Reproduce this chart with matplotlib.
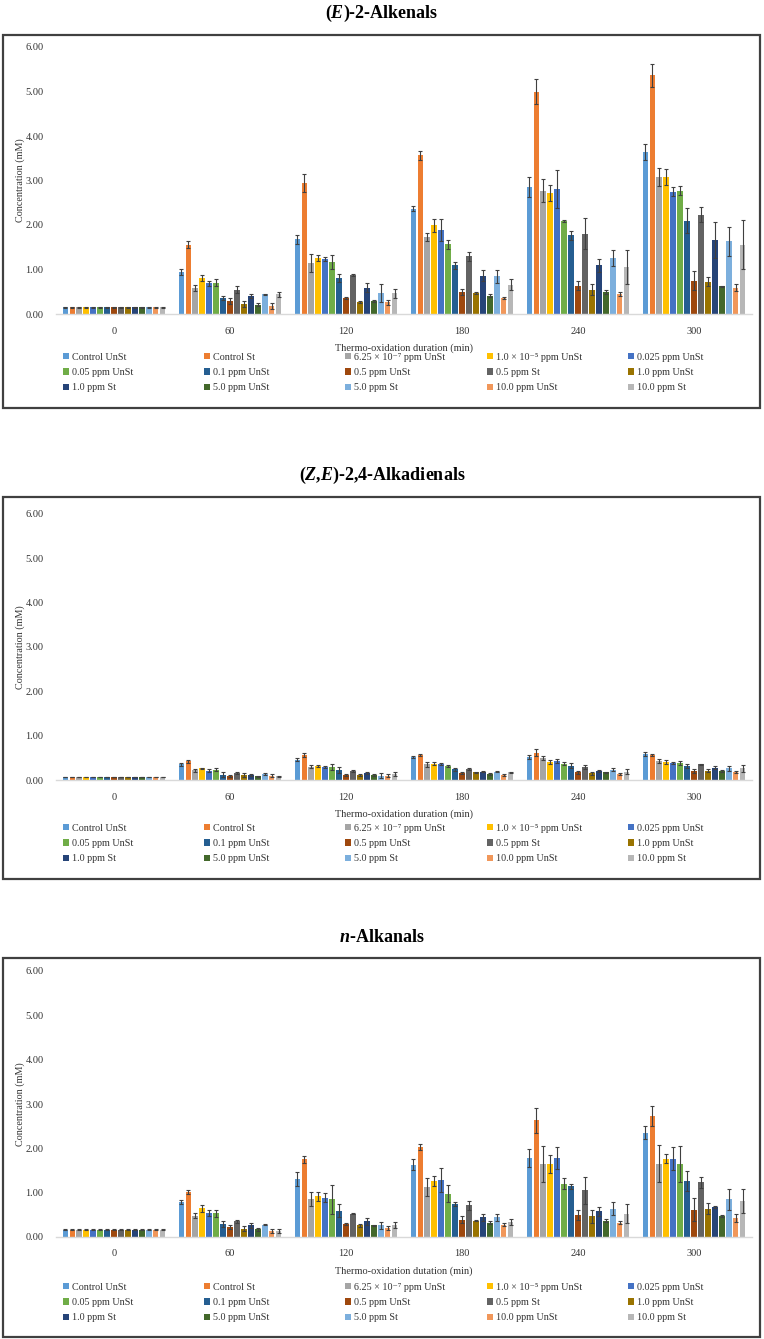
import matplotlib
matplotlib.use("Agg")
import matplotlib.pyplot as plt
from matplotlib.patches import Rectangle
import numpy as np

plt.rcParams['font.family'] = ['Liberation Serif', 'DejaVu Serif']
plt.rcParams['mathtext.fontset'] = 'custom'
plt.rcParams['mathtext.rm'] = 'Liberation Serif'
plt.rcParams['mathtext.it'] = 'Liberation Serif:italic:bold'

# data
times = ["0", "60", "120", "180", "240", "300"]

labels = ["Control UnSt", "Control St", "6.25 \u00d7 10\u207b\u2077 ppm UnSt",
          "1.0 \u00d7 10\u207b\u2075 ppm UnSt", "0.025 ppm UnSt", "0.05 ppm UnSt",
          "0.1 ppm UnSt", "0.5 ppm UnSt", "0.5 ppm St", "1.0 ppm UnSt",
          "1.0 ppm St", "5.0 ppm UnSt", "5.0 ppm St", "10.0 ppm UnSt", "10.0 ppm St"]

colors = ["#5B9BD5", "#ED7D31", "#A5A5A5", "#FFC000", "#4472C4", "#70AD47",
          "#255E91", "#9E480E", "#636363", "#997300", "#264478", "#43682B",
          "#7CAFDD", "#F1975A", "#B7B7B7"]

alkenals = [
    [0.15, 0.95, 1.68, 2.37, 2.85, 3.65],
    [0.15, 1.56, 2.95, 3.57, 5.00, 5.36],
    [0.15, 0.59, 1.15, 1.73, 2.77, 3.08],
    [0.15, 0.81, 1.26, 1.99, 2.71, 3.07],
    [0.15, 0.69, 1.23, 1.89, 2.81, 2.75],
    [0.15, 0.70, 1.17, 1.57, 2.09, 2.77],
    [0.15, 0.36, 0.81, 1.09, 1.77, 2.10],
    [0.15, 0.29, 0.36, 0.49, 0.64, 0.75],
    [0.15, 0.55, 0.87, 1.30, 1.80, 2.23],
    [0.15, 0.23, 0.27, 0.47, 0.55, 0.73],
    [0.15, 0.40, 0.59, 0.86, 1.09, 1.66],
    [0.15, 0.21, 0.29, 0.41, 0.49, 0.62],
    [0.15, 0.44, 0.47, 0.85, 1.26, 1.63],
    [0.15, 0.18, 0.26, 0.36, 0.45, 0.59],
    [0.15, 0.44, 0.47, 0.66, 1.05, 1.56],
]
alkenals_err = [
    [0.01, 0.07, 0.10, 0.06, 0.23, 0.18],
    [0.01, 0.07, 0.20, 0.10, 0.27, 0.25],
    [0.01, 0.07, 0.20, 0.10, 0.26, 0.20],
    [0.01, 0.07, 0.07, 0.15, 0.18, 0.18],
    [0.01, 0.05, 0.05, 0.25, 0.42, 0.10],
    [0.01, 0.08, 0.15, 0.10, 0.02, 0.10],
    [0.01, 0.05, 0.10, 0.08, 0.10, 0.28],
    [0.01, 0.07, 0.03, 0.07, 0.10, 0.22],
    [0.01, 0.07, 0.02, 0.10, 0.35, 0.17],
    [0.01, 0.07, 0.02, 0.03, 0.13, 0.10],
    [0.01, 0.05, 0.10, 0.12, 0.15, 0.40],
    [0.01, 0.03, 0.02, 0.03, 0.04, 0.02],
    [0.01, 0.02, 0.20, 0.15, 0.18, 0.32],
    [0.01, 0.06, 0.05, 0.03, 0.05, 0.08],
    [0.01, 0.06, 0.10, 0.13, 0.38, 0.55],
]

alkadienals = [
    [0.07, 0.35, 0.46, 0.52, 0.52, 0.59],
    [0.07, 0.42, 0.56, 0.56, 0.62, 0.56],
    [0.07, 0.22, 0.30, 0.35, 0.50, 0.43],
    [0.07, 0.26, 0.31, 0.37, 0.41, 0.40],
    [0.07, 0.21, 0.30, 0.36, 0.43, 0.38],
    [0.07, 0.23, 0.29, 0.31, 0.37, 0.38],
    [0.07, 0.12, 0.22, 0.24, 0.32, 0.32],
    [0.07, 0.09, 0.12, 0.16, 0.17, 0.20],
    [0.07, 0.15, 0.20, 0.25, 0.29, 0.35],
    [0.07, 0.11, 0.11, 0.17, 0.15, 0.21],
    [0.07, 0.11, 0.15, 0.19, 0.21, 0.28],
    [0.07, 0.08, 0.12, 0.14, 0.17, 0.20],
    [0.07, 0.13, 0.10, 0.19, 0.23, 0.26],
    [0.07, 0.10, 0.10, 0.12, 0.14, 0.18],
    [0.07, 0.08, 0.14, 0.17, 0.19, 0.26],
]
alkadienals_err = [
    [0.005, 0.04, 0.04, 0.03, 0.04, 0.04],
    [0.005, 0.03, 0.05, 0.02, 0.07, 0.02],
    [0.005, 0.03, 0.04, 0.05, 0.04, 0.05],
    [0.005, 0.02, 0.02, 0.03, 0.04, 0.04],
    [0.005, 0.03, 0.02, 0.03, 0.05, 0.03],
    [0.005, 0.03, 0.06, 0.02, 0.03, 0.04],
    [0.005, 0.06, 0.07, 0.04, 0.06, 0.05],
    [0.005, 0.03, 0.02, 0.02, 0.04, 0.05],
    [0.005, 0.02, 0.02, 0.02, 0.05, 0.02],
    [0.005, 0.05, 0.02, 0.02, 0.04, 0.03],
    [0.005, 0.02, 0.02, 0.02, 0.02, 0.04],
    [0.005, 0.02, 0.02, 0.02, 0.02, 0.02],
    [0.005, 0.02, 0.06, 0.02, 0.03, 0.05],
    [0.005, 0.03, 0.04, 0.02, 0.02, 0.03],
    [0.005, 0.02, 0.04, 0.02, 0.05, 0.07],
]

alkanals = [
    [0.16, 0.79, 1.31, 1.63, 1.78, 2.35],
    [0.16, 1.02, 1.75, 2.03, 2.63, 2.73],
    [0.16, 0.48, 0.86, 1.12, 1.65, 1.65],
    [0.16, 0.65, 0.92, 1.26, 1.65, 1.77],
    [0.16, 0.54, 0.89, 1.29, 1.78, 1.77],
    [0.16, 0.54, 0.85, 0.98, 1.20, 1.65],
    [0.16, 0.30, 0.59, 0.75, 1.14, 1.26],
    [0.16, 0.22, 0.29, 0.39, 0.50, 0.62],
    [0.16, 0.35, 0.53, 0.72, 1.05, 1.23],
    [0.16, 0.19, 0.26, 0.37, 0.47, 0.64],
    [0.16, 0.26, 0.35, 0.44, 0.58, 0.68],
    [0.16, 0.17, 0.26, 0.32, 0.37, 0.47],
    [0.16, 0.28, 0.26, 0.44, 0.64, 0.85],
    [0.16, 0.14, 0.20, 0.28, 0.32, 0.43],
    [0.16, 0.14, 0.27, 0.34, 0.53, 0.81],
]
alkanals_err = [
    [0.01, 0.05, 0.15, 0.12, 0.20, 0.15],
    [0.01, 0.05, 0.08, 0.06, 0.28, 0.22],
    [0.01, 0.06, 0.15, 0.20, 0.40, 0.42],
    [0.01, 0.08, 0.10, 0.12, 0.20, 0.10],
    [0.01, 0.06, 0.10, 0.27, 0.25, 0.25],
    [0.01, 0.08, 0.33, 0.20, 0.12, 0.40],
    [0.01, 0.07, 0.15, 0.05, 0.05, 0.23],
    [0.01, 0.05, 0.03, 0.08, 0.12, 0.25],
    [0.01, 0.04, 0.02, 0.10, 0.30, 0.12],
    [0.01, 0.05, 0.03, 0.02, 0.15, 0.12],
    [0.01, 0.05, 0.07, 0.07, 0.10, 0.03],
    [0.01, 0.03, 0.02, 0.03, 0.03, 0.03],
    [0.01, 0.02, 0.08, 0.07, 0.15, 0.23],
    [0.01, 0.05, 0.05, 0.03, 0.03, 0.10],
    [0.01, 0.05, 0.06, 0.07, 0.22, 0.27],
]

W, H = 764, 1339
fig = plt.figure(figsize=(W / 100, H / 100), dpi=100)

# title, x label, values, errors, pixel layout (title y, box top, box bottom, axes top, axes bottom, legend top)
panels = [
    ("($\\it{E}$)-2-Alkenals", "Thermo-oxidation duration (min)", alkenals, alkenals_err,
     13, 35, 408, 47, 314, 353),
    ("($\\it{Z}$,$\\it{E}$)-2,4-Alkadienals", "Thermo-oxidation duration (min)", alkadienals, alkadienals_err,
     475, 497, 879, 514, 780, 824),
    ("$\\it{n}$-Alkanals", "Thermo-oxidation dutation (min)", alkanals, alkanals_err,
     937, 958, 1337, 971, 1237, 1283),
]

x = np.arange(len(times))
slot = 0.06
bw = 0.047
ax_left, ax_right = 56, 752
leg_cols = [63, 204, 345, 487, 628]

for title, xlab, vals, errs, ty, btop, bbot, atop, abot, ltop in panels:
    fig.text(0.5, 1 - ty / H, title, ha='center', va='center', fontsize=13, fontweight='bold')
    fig.patches.append(Rectangle((3 / W, 1 - bbot / H), (760 - 3) / W, (bbot - btop) / H,
                                 transform=fig.transFigure, fill=False,
                                 edgecolor='#404040', linewidth=1.6))
    ax = fig.add_axes([ax_left / W, 1 - abot / H, (ax_right - ax_left) / W, (abot - atop) / H])
    handles = []
    for i in range(len(labels)):
        off = (i - 7) * slot
        b = ax.bar(x + off, vals[i], bw, yerr=errs[i], color=colors[i], label=labels[i],
                   error_kw=dict(ecolor='#404040', elinewidth=0.8, capsize=1.5, capthick=0.8))
        handles.append(b)
    ax.set_xlim(-0.5, 5.5)
    ax.set_ylim(0, 6)
    ax.set_yticks(np.arange(0, 7, 1))
    ax.set_yticklabels(["%.2f" % v for v in np.arange(0, 7, 1)])
    ax.set_xticks(x)
    ax.set_xticklabels(times)
    ax.tick_params(axis='both', length=0, labelsize=7.5, colors='#333333')
    ax.tick_params(axis='y', pad=9)
    ax.tick_params(axis='x', pad=9)
    for s in ['top', 'right', 'left']:
        ax.spines[s].set_visible(False)
    ax.spines['bottom'].set_color('#D9D9D9')
    ax.spines['bottom'].set_linewidth(1.0)
    ax.set_xlabel(xlab, fontsize=7.5, color='#333333')
    ax.xaxis.set_label_coords(0.5, -29 / (abot - atop))
    ax.set_ylabel("Concentration (mM)", fontsize=7.3, color='#333333')
    ax.yaxis.set_label_coords(-31 / (ax_right - ax_left), 0.5)

    # legend: 5 columns, filled row by row
    for j, cx in enumerate(leg_cols):
        idx = [j, j + 5, j + 10]
        leg = fig.legend([handles[k] for k in idx], [labels[k] for k in idx],
                         loc='upper left', bbox_to_anchor=(cx / W, 1 - ltop / H),
                         bbox_transform=fig.transFigure, frameon=False, fontsize=7.3,
                         borderpad=0, borderaxespad=0, handlelength=0.55, handleheight=0.55,
                         handletextpad=0.35, labelspacing=0.6)
        for t in leg.get_texts():
            t.set_color('#333333')

fig.savefig("out.png", dpi=100)
